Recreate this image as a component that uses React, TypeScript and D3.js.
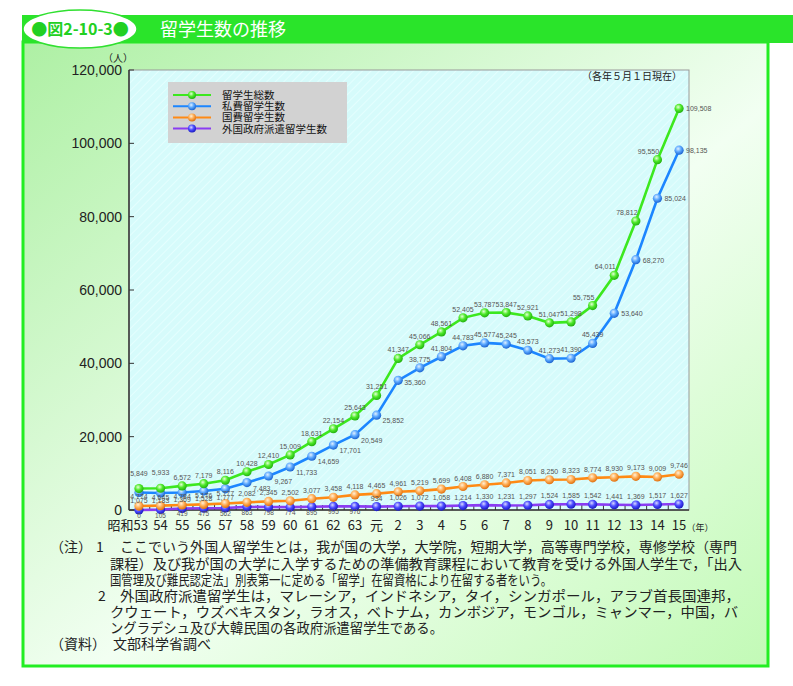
import React from "react";
import * as d3 from "d3";

const years = ["昭和53","54","55","56","57","58","59","60","61","62","63","元","2","3","4","5","6","7","8","9","10","11","12","13","14","15"];
const totalStudents = [5849,5933,6572,7179,8116,10428,12410,15009,18631,22154,25643,31251,41347,45066,48561,52405,53787,53847,52921,51047,51298,55755,64011,78812,95550,109508];
const privateStudents = [4774,4645,4784,5176,5777,7483,9267,11733,14659,17701,20549,25852,35360,38775,41804,44783,45577,45245,43573,41273,41390,45439,53640,68270,85024,98135];
const govStudents = [1075,1183,1369,1528,1777,2082,2345,2502,3077,3458,4118,4465,4961,5219,5699,6408,6880,7371,8051,8250,8323,8774,8930,9173,9009,9746];
const foreignGovStudents = [0,105,419,475,562,863,798,774,895,995,976,934,1026,1072,1058,1214,1330,1231,1297,1524,1585,1542,1441,1369,1517,1627];
const yTicks = [0,20000,40000,60000,80000,100000,120000];
const legendNames = ["留学生総数","私費留学生数","国費留学生数","外国政府派遣留学生数"];
const notes = [
  "ここでいう外国人留学生とは，我が国の大学，大学院，短期大学，高等専門学校，専修学校（専門",
  "課程）及び我が国の大学に入学するための準備教育課程において教育を受ける外国人学生で，「出入",
  "国管理及び難民認定法」別表第一に定める「留学」在留資格により在留する者をいう。",
  "外国政府派遣留学生は，マレーシア，インドネシア，タイ，シンガポール，アラブ首長国連邦，",
  "クウェート，ウズベキスタン，ラオス，ベトナム，カンボジア，モンゴル，ミャンマー，中国，バ",
  "ングラデシュ及び大韓民国の各政府派遣留学生である。",
];

const W = 793, H = 686;
const plot = { left: 129, right: 689, top: 70, bottom: 510 };

const seriesStyle = [
  { line: "#3ce81e", light: "#e6ffd8", mid: "#4eea2a", dark: "#22b010" },
  { line: "#1c86ff", light: "#e0f0ff", mid: "#5aa8ff", dark: "#1c64d0" },
  { line: "#ff8a14", light: "#fff0d8", mid: "#ffae55", dark: "#e07010" },
  { line: "#8a3cf2", light: "#d8d8ff", mid: "#4a4aff", dark: "#1a1ac0" },
];

const fmt = d3.format(",");
const sans = "'Liberation Sans', Arial, 'Noto Sans CJK JP', sans-serif";
const jp = "'Noto Sans CJK JP', sans-serif";

function labelPos(s: number, i: number): { dx: number; dy: number; anchor: string } {
  if (s === 0) {
    if (i < 2) return { dx: 0, dy: -13, anchor: "middle" };
    if (i <= 20) return { dx: 0, dy: -6, anchor: "middle" };
    if (i <= 24) return { dx: -9, dy: -6, anchor: "middle" };
    return { dx: 7, dy: 3, anchor: "start" };
  }
  if (s === 1) {
    if (i <= 4) return { dx: 0, dy: 7, anchor: "middle" };
    if (i <= 11) return { dx: 6, dy: 8, anchor: "start" };
    if (i === 12) return { dx: 6, dy: 5, anchor: "start" };
    if (i <= 21) return { dx: 0, dy: -6, anchor: "middle" };
    return { dx: 7, dy: 3, anchor: "start" };
  }
  if (s === 2) return { dx: 0, dy: i <= 4 ? -3 : -6, anchor: "middle" };
  if (i <= 10) return { dx: 0, dy: 8, anchor: "middle" };
  return { dx: 0, dy: -6, anchor: "middle" };
}

export default function App() {
  const x = d3.scalePoint<string>().domain(years).range([plot.left, plot.right]).padding(0.46);
  const y = d3.scaleLinear().domain([0, 120000]).range([plot.bottom, plot.top]);
  const all = [totalStudents, privateStudents, govStudents, foreignGovStudents];
  const line = d3.line<number>().x((_, i) => x(years[i])!).y((d) => y(d));
  const step = x.step();

  const noteLines = [
    { x: 120, y: 552, w: 617, t: notes[0] },
    { x: 110, y: 569, w: 632, t: notes[1] },
    { x: 110, y: 585, w: 442, t: notes[2] },
    { x: 120, y: 601, w: 620, t: notes[3] },
    { x: 110, y: 617, w: 628, t: notes[4] },
    { x: 110, y: 633, w: 333, t: notes[5] },
  ];

  return (
    <svg width={W} height={H} style={{ position: "absolute", left: 0, top: 0 }} xmlns="http://www.w3.org/2000/svg">
      <defs>
        <linearGradient id="bg" x1="0" y1="0" x2="1" y2="1">
          <stop offset="0" stopColor="#aef0a4" />
          <stop offset="0.55" stopColor="#f2fff2" />
          <stop offset="1" stopColor="#c2fab6" />
        </linearGradient>
        <pattern id="hatch" width="6" height="6" patternUnits="userSpaceOnUse" patternTransform="rotate(45)">
          <rect width="6" height="6" fill="#d6fbfb" />
          <line x1="0" y1="0" x2="0" y2="6" stroke="#e4fefe" strokeWidth="2" />
        </pattern>
        {seriesStyle.map((s, k) => (
          <radialGradient key={k} id={`ball${k}`} cx="0.4" cy="0.35" r="0.65">
            <stop offset="0" stopColor={s.light} />
            <stop offset="0.5" stopColor={s.mid} />
            <stop offset="1" stopColor={s.dark} />
          </radialGradient>
        ))}
      </defs>

      {/* panel */}
      <rect x={23} y={42} width={745} height={624} fill="url(#bg)" stroke="#22ee22" strokeWidth={3} />
      {/* header */}
      <rect x={22} y={15} width={771} height={28} fill="#2ae42a" />
      <ellipse cx={80} cy={29} rx={57} ry={19} fill="#ffffff" stroke="#30e030" strokeWidth={1.5} />
      <text x={80} y={35} textAnchor="middle" fontFamily={jp} fontSize={16} fill="#22d022" fontWeight="bold">●図2-10-3●</text>
      <text x={160} y={36} fontFamily={jp} fontSize={18} fill="#ffffff">留学生数の推移</text>

      {/* plot area */}
      <rect x={plot.left} y={plot.top} width={plot.right - plot.left} height={plot.bottom - plot.top} fill="url(#hatch)" stroke="#999" strokeWidth={1} />
      <line x1={plot.left} x2={plot.left} y1={plot.top} y2={plot.bottom} stroke="#333" strokeWidth={1.5} />
      <line x1={plot.left} x2={plot.right} y1={plot.bottom} y2={plot.bottom} stroke="#333" strokeWidth={1.5} />

      {yTicks.map((t) => (
        <g key={t}>
          <line x1={plot.left} x2={plot.left + 5} y1={y(t)} y2={y(t)} stroke="#333" strokeWidth={1} />
          <text x={122} y={y(t) + 5} textAnchor="end" fontFamily={sans} fontSize={14} fill="#222">{fmt(t)}</text>
        </g>
      ))}
      <text x={118} y={62} textAnchor="middle" fontFamily={jp} fontSize={10} fill="#222">（人）</text>

      {years.slice(1).map((yr) => {
        const mx = x(yr)! - step / 2;
        return <line key={yr} x1={mx} x2={mx} y1={plot.bottom} y2={plot.bottom - 5} stroke="#333" strokeWidth={1} />;
      })}
      {years.map((yr, i) => (
        <text key={yr} x={i === 0 ? x(yr)! + 9 : x(yr)!} y={530} textAnchor={i === 0 ? "end" : "middle"} fontFamily={jp} fontSize={13} fill="#222">{yr}</text>
      ))}
      <text x={700} y={531} textAnchor="middle" fontFamily={jp} fontSize={9} fill="#222">（年）</text>

      <text x={682} y={80} textAnchor="end" fontFamily={jp} fontSize={10} fill="#222">（各年５月１日現在）</text>

      {/* legend */}
      <rect x={168} y={82} width={179} height={61} fill="#d2d2d2" />
      {legendNames.map((n, k) => {
        const ly = 95 + k * 11.2;
        return (
          <g key={n}>
            <line x1={173} x2={211} y1={ly} y2={ly} stroke={seriesStyle[k].line} strokeWidth={2} />
            <circle cx={192} cy={ly} r={4} fill={`url(#ball${k})`} />
            <text x={222} y={ly + 4} fontFamily={jp} fontSize={10.5} fill="#111">{n}</text>
          </g>
        );
      })}

      {/* lines */}
      {all.slice().reverse().map((vals, rk) => {
        const k = 3 - rk;
        return <path key={k} d={line(vals)!} fill="none" stroke={seriesStyle[k].line} strokeWidth={2.6} />;
      })}
      {all.slice().reverse().map((vals, rk) => {
        const k = 3 - rk;
        return (
          <g key={k}>
            {vals.map((v, i) => (
              <circle key={i} cx={x(years[i])!} cy={y(v)} r={4.6} fill={`url(#ball${k})`} />
            ))}
          </g>
        );
      })}
      {all.map((vals, k) => (
        <g key={k}>
          {vals.map((v, i) => {
            const p = labelPos(k, i);
            return (
              <text key={i} x={x(years[i])! + p.dx} y={y(v) + p.dy} textAnchor={p.anchor} fontFamily={sans} fontSize={k === 3 && i <= 10 ? 6.5 : 7} fill="#555">{fmt(v)}</text>
            );
          })}
        </g>
      ))}

      {/* notes */}
      <text x={50} y={552} fontFamily={jp} fontSize={14} fill="#222">（注）</text>
      <text x={96} y={552} fontFamily={jp} fontSize={14} fill="#222">1</text>
      <text x={98} y={601} fontFamily={jp} fontSize={14} fill="#222">2</text>
      {noteLines.map((l, k) => (
        <text key={k} x={l.x} y={l.y} fontFamily={jp} fontSize={14} fill="#222" textLength={l.w} lengthAdjust="spacingAndGlyphs">{l.t}</text>
      ))}
      <text x={50} y={649} fontFamily={jp} fontSize={14} fill="#222">（資料）</text>
      <text x={113} y={649} fontFamily={jp} fontSize={14} fill="#222">文部科学省調べ</text>
    </svg>
  );
}
